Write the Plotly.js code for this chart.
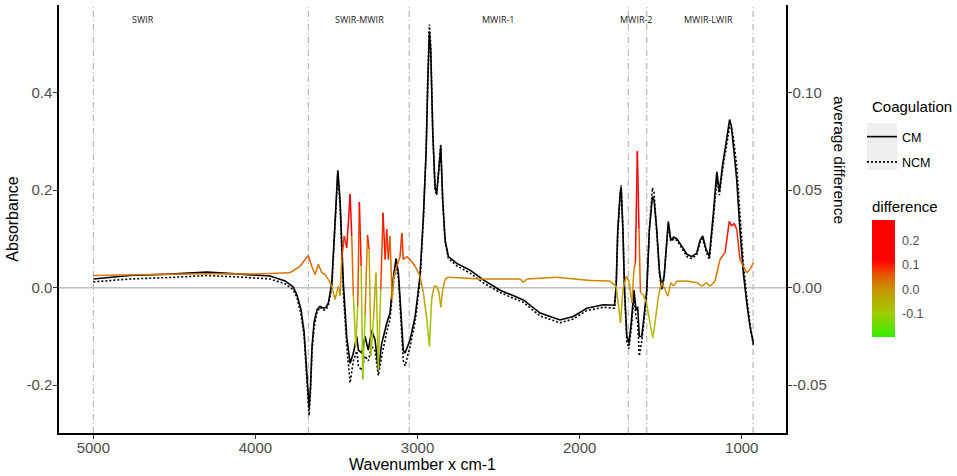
<!DOCTYPE html>
<html><head><meta charset="utf-8">
<script src="https://cdn.plot.ly/plotly-3.0.1.min.js"></script>
<style>html,body{margin:0;padding:0;background:#fff}#chart{width:957px;height:476px}</style>
</head><body><div id="chart"></div>
<script>
// ---- data ----
const wavenumber = [5000,4774,4527,4299,4095,3910,3817,3768,3744,3719,3700,3685,3669,3660,3651,3638,3620,3601,3581,3564,3550,3529,3509,3492,3478,3458,3437,3416,3396,3375,3365,3344,3324,3304,3283,3262,3242,3221,3190,3170,3149,3133,3118,3108,3088,3077,3046,3015,2985,2964,2947,2937,2927,2919,2906,2892,2882,2867,2857,2845,2830,2810,2758,2676,2594,2491,2347,2244,2121,2039,1956,1854,1785,1775,1765,1750,1744,1733,1723,1709,1696,1682,1665,1652,1642,1632,1617,1603,1586,1570,1551,1541,1524,1508,1494,1479,1467,1453,1438,1418,1399,1370,1336,1309,1278,1257,1241,1220,1200,1175,1154,1138,1117,1097,1075,1063,1052,1031,1011,990,969,949,928];
const absorbanceCM = [0.018,0.025,0.028,0.032,0.028,0.024,0.014,0.002,-0.015,-0.045,-0.09,-0.17,-0.247,-0.2,-0.12,-0.07,-0.045,-0.038,-0.042,-0.04,-0.031,0.01,0.146,0.241,0.18,0.01,-0.1,-0.155,-0.134,-0.1,-0.128,-0.134,-0.1,-0.128,-0.087,-0.107,-0.169,-0.114,-0.073,-0.052,0.022,0.06,0.03,-0.025,-0.128,-0.134,-0.107,-0.059,0.023,0.146,0.282,0.419,0.525,0.488,0.317,0.207,0.194,0.249,0.289,0.18,0.098,0.064,0.05,0.036,0.016,-0.005,-0.025,-0.052,-0.066,-0.059,-0.042,-0.035,-0.036,0.002,0.118,0.194,0.207,0.118,-0.005,-0.1,-0.114,-0.073,-0.005,-0.046,-0.039,-0.1,-0.1,-0.059,-0.005,0.118,0.187,0.18,0.118,0.036,0.002,0.023,0.079,0.136,0.098,0.104,0.1,0.085,0.068,0.064,0.071,0.098,0.106,0.079,0.064,0.153,0.238,0.197,0.255,0.296,0.345,0.33,0.296,0.222,0.118,0.03,-0.031,-0.08,-0.114];
const absorbanceNCM = [0.012,0.018,0.021,0.025,0.022,0.018,0.008,-0.004,-0.02,-0.055,-0.10,-0.18,-0.262,-0.21,-0.13,-0.08,-0.05,-0.04,-0.046,-0.045,-0.035,0.0,0.13,0.235,0.17,-0.01,-0.12,-0.195,-0.15,-0.13,-0.16,-0.17,-0.14,-0.15,-0.12,-0.13,-0.18,-0.14,-0.09,-0.065,0.01,0.045,0.02,-0.035,-0.15,-0.16,-0.12,-0.07,0.015,0.14,0.28,0.43,0.54,0.50,0.32,0.20,0.19,0.25,0.295,0.18,0.095,0.06,0.045,0.03,0.01,-0.01,-0.03,-0.058,-0.072,-0.064,-0.047,-0.04,-0.042,-0.005,0.11,0.19,0.21,0.12,-0.01,-0.11,-0.125,-0.085,-0.02,-0.06,-0.07,-0.14,-0.11,-0.07,-0.01,0.12,0.205,0.195,0.12,0.03,-0.005,0.02,0.075,0.13,0.095,0.1,0.097,0.08,0.063,0.06,0.067,0.093,0.1,0.075,0.058,0.14,0.22,0.19,0.245,0.285,0.33,0.325,0.31,0.25,0.15,0.05,-0.02,-0.075,-0.12];
const diffWavenumber = [5000,4650,4299,4033,3787,3725,3674,3653,3632,3612,3591,3571,3550,3529,3509,3489,3478,3468,3452,3437,3416,3406,3396,3381,3369,3359,3348,3338,3324,3309,3299,3287,3272,3256,3242,3227,3213,3200,3190,3180,3170,3157,3145,3128,3108,3097,3088,3067,3046,3015,2985,2964,2943,2927,2913,2898,2882,2867,2857,2845,2830,2810,2614,2367,2347,2325,2141,1936,1813,1775,1760,1748,1733,1712,1696,1677,1665,1656,1644,1634,1625,1609,1588,1566,1549,1535,1514,1494,1473,1456,1437,1421,1400,1339,1277,1246,1216,1196,1165,1134,1103,1077,1062,1047,1031,1011,990,969,949,928];
const averageDifference = [0.0063,0.0068,0.0072,0.0070,0.0077,0.011,0.0166,0.011,0.0068,0.012,0.0077,0.0068,0.0043,0.0008,-0.006,0.0008,-0.004,0.0145,0.0265,0.0205,0.048,0.0265,-0.0043,-0.03,-0.0094,0.044,0.011,-0.047,-0.0146,0.027,0.0196,-0.035,-0.016,0.0077,-0.042,-0.0009,0.0385,0.0145,0.03,0.0145,0.0265,-0.006,0.006,0.011,0.016,0.028,0.0145,0.016,0.0145,0.011,0.006,-0.0026,-0.016,-0.03,-0.006,0.0008,0.0008,-0.0026,-0.01,-0.0009,0.0043,0.0054,0.0045,0.0045,0.0027,0.0045,0.0054,0.0037,0.0034,0.0008,-0.0094,-0.018,-0.0009,0.006,0.0034,-0.0077,0.0094,0.0128,0.07,0.03,-0.0026,-0.0034,-0.0077,-0.018,-0.0256,-0.018,-0.0043,0.0026,-0.0009,-0.0043,0.0026,0.0008,0.0034,0.0034,0.0026,0.0008,0.0026,0.0008,0.0034,0.0145,0.018,0.034,0.0316,0.033,0.03,0.0145,0.011,0.0077,0.0094,0.0128];
const regionNames = ['SWIR','SWIR-MWIR','MWIR-1','MWIR-2','MWIR-LWIR'];
const regionLabelAt = [4693,3358,2503,1652,1205];
const regionBounds = [5000,3674,3052,1700,1586,930];
const xTickVals = [5000,4000,3000,2000,1000];
const xTickText = ['5000','4000','3000','2000','1000'];
const yTickVals = [-0.2,0,0.2,0.4];
const yTickText = ['-0.2','0.0','0.2','0.4'];
const y2TickVals = [-0.05,0,0.05,0.10];
const y2TickText = ['-0.05','0.00','0.05','0.10'];
const cbTickVals = [-0.1,0,0.1,0.2];
const cbTickText = ['-0.1','0.0','0.1','0.2'];
const axisRatio = 4; // absorbance units per average-difference unit

// ---- colour scale ----
const cmin = -0.195, cmax = 0.283;
const stops = [[-0.195,'#33EE00'],[-0.1,'#A0CC00'],[0,'#C89400'],[0.05,'#E06400'],[0.1,'#FF1A00'],[0.115,'#FF0000'],[0.283,'#FF0000']];
const colorscale = stops.map(s => [(s[0]-cmin)/(cmax-cmin), s[1]]);
function hex2rgb(h){return [parseInt(h.slice(1,3),16),parseInt(h.slice(3,5),16),parseInt(h.slice(5,7),16)];}
function colorAt(v){
  v = Math.max(cmin, Math.min(cmax, v));
  for (let i=0;i<stops.length-1;i++){
    const a=stops[i], b=stops[i+1];
    if (v>=a[0] && v<=b[0]){
      const t=(v-a[0])/(b[0]-a[0]); const ca=hex2rgb(a[1]), cb=hex2rgb(b[1]);
      return 'rgb('+ca.map((c,k)=>Math.round(c+(cb[k]-c)*t)).join(',')+')';
    }
  }
  return stops[stops.length-1][1];
}

// ---- traces ----
const traces = [];
traces.push({type:'scatter',mode:'lines',name:'CM',legendgroup:'cm',x:wavenumber,y:absorbanceCM,
  line:{color:'#000',width:1.6},hoverinfo:'skip'});
traces.push({type:'scatter',mode:'lines',name:'NCM',legendgroup:'ncm',x:wavenumber,y:absorbanceNCM,
  line:{color:'#000',width:1.6,dash:'2px,2px'},hoverinfo:'skip'});
for (let i=0;i<diffWavenumber.length-1;i++){
  const v = axisRatio*(averageDifference[i]+averageDifference[i+1])/2;
  traces.push({type:'scatter',mode:'lines',x:[diffWavenumber[i],diffWavenumber[i+1]],
    y:[averageDifference[i],averageDifference[i+1]],yaxis:'y2',
    line:{color:colorAt(v),width:1.5},showlegend:false,hoverinfo:'skip'});
}
const plotW = 727, plotH = 428, L = 59, T = 5;
const px = x => (x-L)/plotW, py = y => (T+plotH-y)/plotH;
traces.push({type:'scatter',mode:'markers',x:diffWavenumber,y:averageDifference,yaxis:'y2',showlegend:false,hoverinfo:'skip',
  marker:{size:2,opacity:0,color:averageDifference.map(d=>axisRatio*d),colorscale:colorscale,cmin:cmin,cmax:cmax,showscale:true,
    colorbar:{title:{text:'difference',side:'top',font:{size:15,color:'#000'}},
      x:px(872),xanchor:'left',xpad:0,ypad:0,y:py(267.5),yanchor:'middle',len:139,lenmode:'pixels',
      thickness:23,thicknessmode:'pixels',outlinewidth:0,tickvals:cbTickVals,ticktext:cbTickText,
      ticks:'outside',ticklen:5,tickcolor:'rgba(0,0,0,0)',tickfont:{size:12.5,color:'#4d4d4d'}}}});

// ---- shapes & annotations ----
const shapes = [];
regionBounds.forEach(b => shapes.push({type:'line',xref:'x',yref:'paper',x0:b,x1:b,y0:0,y1:0.995,layer:'below',
  line:{color:'#a8a8a8',width:1,dash:'6px,3px,1px,3px'}}));
shapes.push({type:'line',xref:'paper',yref:'y',x0:0,x1:1,y0:0,y1:0,layer:'below',line:{color:'#c0c0c0',width:1.3}});
shapes.push({type:'rect',xref:'paper',yref:'paper',x0:px(867),x1:px(897),y0:py(123),y1:py(170),layer:'below',
  fillcolor:'#efefef',line:{width:0}});
const annotations = regionNames.map((n,i)=>({text:n,x:regionLabelAt[i],xref:'x',y:py(19.5),yref:'paper',showarrow:false,
  xanchor:'center',yanchor:'middle',font:{family:'Open Sans',size:9,color:'#222'}}));
annotations.push({text:'average difference',xref:'paper',yref:'paper',x:px(840),y:py(160),textangle:90,showarrow:false,
  xanchor:'center',yanchor:'middle',font:{size:15.5,color:'#000'}});
annotations.push({text:'Coagulation',xref:'paper',yref:'paper',x:px(870),y:py(106),showarrow:false,
  xanchor:'left',yanchor:'middle',font:{size:15,color:'#000'}});

const axisCommon = {showline:true,linecolor:'#000',linewidth:1.6,ticks:'outside',ticklen:4,tickwidth:1,tickcolor:'#333',
  showgrid:false,zeroline:false,tickfont:{size:15,color:'#4d4d4d'}};
const layout = {
  width:957,height:476,margin:{l:L,r:957-L-plotW,t:T,b:476-T-plotH},
  paper_bgcolor:'#fff',plot_bgcolor:'#fff',
  font:{family:'Liberation Sans, Arial, sans-serif',color:'#000'},
  xaxis:Object.assign({},axisCommon,{range:[5212,727],tickvals:xTickVals,ticktext:xTickText,ticklabelstandoff:-4,
    title:{text:'Wavenumber x cm-1',font:{size:16,color:'#000'},standoff:4}}),
  yaxis:Object.assign({},axisCommon,{range:[-0.298,0.58],tickvals:yTickVals,ticktext:yTickText,ticklabelstandoff:-2,
    title:{text:'Absorbance',font:{size:16,color:'#000'},standoff:4}}),
  yaxis2:Object.assign({},axisCommon,{overlaying:'y',side:'right',range:[-0.298/axisRatio,0.58/axisRatio],
    tickvals:y2TickVals,ticktext:y2TickText,ticklabelstandoff:-2}),
  showlegend:true,
  legend:{x:px(862),xanchor:'left',y:py(122),yanchor:'top',bgcolor:'rgba(0,0,0,0)',borderwidth:0,
    font:{size:12.5,color:'#000'},tracegroupgap:6,itemwidth:30},
  shapes:shapes,annotations:annotations
};
Plotly.newPlot('chart',traces,layout,{displayModeBar:false,staticPlot:true});
</script></body></html>
